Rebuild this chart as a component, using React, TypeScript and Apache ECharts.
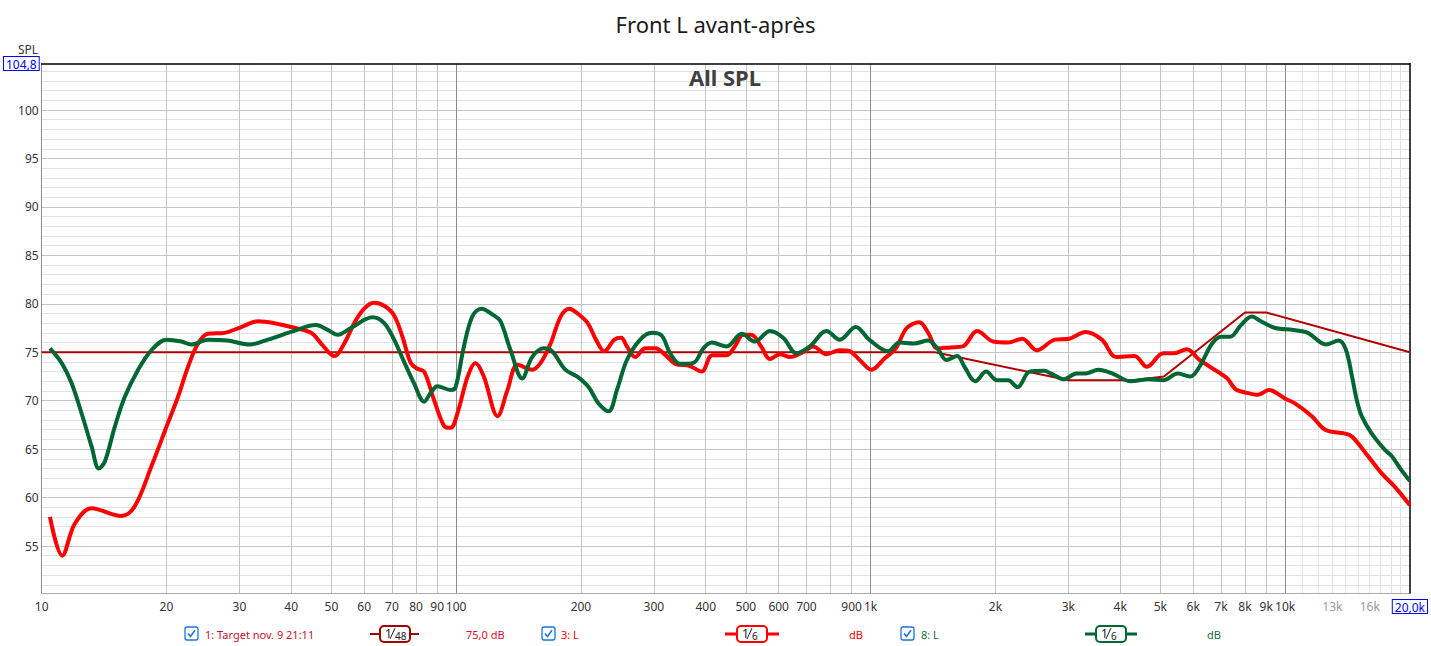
import React, { useEffect, useRef } from 'react';
import * as echarts from 'echarts';

// ---------- data ----------
const xLabelFreqs = [10, 20, 30, 40, 50, 60, 70, 80, 90, 100, 200, 300, 400, 500, 600, 700, 900, 1000, 2000, 3000, 4000, 5000, 6000, 7000, 8000, 9000, 10000, 13000, 16000, 20000];
const xLabelTexts = ['10', '20', '30', '40', '50', '60', '70', '80', '90', '100', '200', '300', '400', '500', '600', '700', '900', '1k', '2k', '3k', '4k', '5k', '6k', '7k', '8k', '9k', '10k', '13k', '16k', '20,0k'];
const decadeLines = [10, 100, 1000, 10000];
const majorLines = [20, 30, 40, 50, 60, 70, 80, 90, 200, 300, 400, 500, 600, 700, 800, 900, 2000, 3000, 4000, 5000, 6000, 7000, 8000, 9000];
const fineLines = [11000, 12000, 13000, 14000, 15000, 16000, 17000, 18000, 19000];
const yLabelValues = [55, 60, 65, 70, 75, 80, 85, 90, 95, 100];
const yMinorValues = [51, 52, 53, 54, 56, 57, 58, 59, 61, 62, 63, 64, 66, 67, 68, 69, 71, 72, 73, 74, 76, 77, 78, 79, 81, 82, 83, 84, 86, 87, 88, 89, 91, 92, 93, 94, 96, 97, 98, 99, 101, 102, 103, 104];
const yTop = 104.8;
const yBottom = 50.15;
const fMin = 10;
const fMax = 20000;

// 1: Target
const targetCurve: [number, number][] = [
  [10, 75], [1430, 75], [3000, 72.1], [4300, 72.1], [5100, 72.5], [8000, 79.1], [9000, 79.1], [20000, 75],
];

// 3: L (before, red)
const redCurve: [number, number][] = [
  [10.47, 58.0], [11.21, 54.0], [12.02, 57.3], [13.19, 58.9], [15.58, 58.1], [16.77, 59.1], [18.39, 63.2], [20.0, 67.3],
  [21.33, 70.4], [22.55, 73.5], [23.84, 75.9], [25.19, 76.9], [27.62, 77.0], [30.29, 77.6], [33.23, 78.2], [36.43, 78.0],
  [39.96, 77.6], [44.66, 77.0], [47.64, 75.7], [50.81, 74.6], [53.7, 75.9], [56.76, 78.0], [60.0, 79.5], [63.4, 80.1],
  [67.04, 79.8], [70.85, 78.8], [74.2, 76.6], [77.7, 73.9], [80.6, 73.3], [83.7, 73.0], [88.4, 70.1], [93.5, 67.4],
  [97.0, 67.2], [100.7, 68.7], [106.6, 72.5], [111.3, 73.9], [116.6, 72.5], [125.9, 68.4], [133.0, 71.1], [140.7, 73.7],
  [152.5, 73.2], [159.9, 73.9], [169.0, 75.9], [178.8, 78.7], [187.4, 79.5], [196.3, 79.0], [207.7, 78.0], [217.4, 76.3],
  [227.7, 75.1], [240.9, 76.3], [250, 76.5], [258.2, 75.6], [270.4, 74.5], [286, 75.4], [302.5, 75.4], [320, 74.7],
  [338, 73.8], [365.4, 73.6], [391, 73.0], [415, 74.7], [449.5, 74.7], [470.2, 75.6], [492.3, 76.8], [515, 76.8],
  [544.3, 75.6], [571.3, 74.3], [604.6, 74.8], [639, 74.5], [687, 75.0], [726, 75.6], [782, 74.8], [842, 75.2],
  [890, 75.1], [941, 74.2], [1004, 73.2], [1083, 74.4], [1150, 75.4], [1222, 77.5], [1311, 78.1], [1377, 77.0],
  [1449, 75.4], [1555, 75.5], [1668, 75.6], [1807, 77.2], [1977, 76.1], [2145, 76.0], [2322, 76.4], [2516, 75.2],
  [2783, 76.3], [3015, 76.4], [3300, 77.1], [3613, 76.3], [3914, 74.5], [4330, 74.6], [4642, 73.5], [5080, 74.9],
  [5397, 74.9], [5790, 75.3], [6214, 74.2], [6869, 73.0], [7250, 72.3], [7590, 71.2], [8100, 70.8], [8600, 70.6],
  [9130, 71.1], [10010, 70.2], [10580, 69.7], [11600, 68.4], [12490, 67.0], [13960, 66.6], [14500, 66.3], [15900, 64.2],
  [17100, 62.5], [18400, 61.1], [20000, 59.2],
];

// 8: L (after, green)
const greenCurve: [number, number][] = [
  [10.47, 75.4], [11.17, 73.9], [11.81, 71.8], [12.48, 68.7], [13.19, 65.3], [13.74, 63.0], [14.2, 63.7], [15.01, 67.3],
  [15.87, 70.4], [17.09, 73.2], [18.39, 75.2], [20.0, 76.3], [21.73, 76.1], [22.96, 75.8], [25.19, 76.3], [28.14, 76.2],
  [31.72, 75.8], [35.13, 76.3], [39.96, 77.1], [45.9, 77.8], [48.98, 77.3], [51.79, 76.8], [55.73, 77.5], [62.85, 78.6],
  [67.04, 78.0], [70.85, 76.3], [74.9, 74.0], [79.13, 71.8], [83.7, 69.9], [86.8, 70.8], [90.1, 71.5], [97.0, 71.1],
  [99.7, 71.4], [104.4, 75.6], [109.4, 78.7], [115.0, 79.5], [123.3, 78.8], [127.9, 78.2], [135.3, 75.2], [144.3, 72.3],
  [152.5, 74.5], [162.7, 75.4], [170.4, 75.1], [183.4, 73.2], [195.7, 72.5], [208.7, 71.4], [220.6, 69.7], [233.2, 68.9],
  [244.3, 71.1], [258.2, 74.2], [278, 76.3], [296.7, 77.0], [313.5, 76.7], [328.2, 74.9], [347, 73.8], [373.6, 73.9],
  [394.8, 75.4], [413.7, 76.0], [449.5, 75.6], [488.5, 76.9], [525.8, 76.1], [571.3, 77.2], [615, 76.5], [662.5, 74.9],
  [713.3, 75.6], [782.4, 77.2], [842.1, 76.3], [921, 77.6], [992, 76.3], [1101, 75.1], [1174, 76.0], [1271, 75.9],
  [1377, 76.2], [1449, 75.4], [1524, 74.2], [1618, 74.6], [1684, 73.5], [1789, 72.0], [1900, 73.0], [2018, 72.1],
  [2145, 72.1], [2262, 71.4], [2418, 73.0], [2620, 73.1], [2726, 72.8], [2926, 72.2], [3138, 72.8], [3300, 72.8],
  [3540, 73.2], [3836, 72.8], [4241, 72.0], [4691, 72.2], [5080, 72.1], [5506, 72.8], [5905, 72.5], [6214, 73.5],
  [6666, 75.9], [7007, 76.6], [7369, 76.6], [7823, 77.8], [8311, 78.7], [8741, 78.2], [9472, 77.5], [10471, 77.3],
  [11346, 77.0], [12544, 75.8], [13459, 76.2], [14005, 75.3], [14500, 72.5], [14900, 70.0], [15303, 68.4], [16180, 66.6],
  [17428, 64.9], [18072, 64.3], [19104, 62.8], [20000, 61.7],
];

// ---------- helpers ----------
const lg = (f: number) => Math.log10(f);
const toXY = (c: [number, number][]) => c.map(([f, v]) => [lg(f), v]);

const FONT = 'Noto Sans';
const C_TARGET = '#b00000';
const C_RED = '#ff0000';
const C_GREEN = '#006633';

function checkbox(x: number, y: number) {
  return [
    { type: 'rect', shape: { x, y, width: 13, height: 13, r: 2 }, style: { fill: '#fff', stroke: '#1a73e8', lineWidth: 1.3 } },
    { type: 'polyline', shape: { points: [[x + 3, y + 6.5], [x + 5.5, y + 9.5], [x + 10, y + 3.2]] }, style: { stroke: '#1a73e8', lineWidth: 1.6, fill: null } },
  ];
}

function badge(x1: number, x2: number, bx: number, color: string, den: string, lw: number) {
  const cy = 634;
  return [
    { type: 'line', shape: { x1, y1: cy, x2, y2: cy }, style: { stroke: color, lineWidth: lw } },
    { type: 'rect', shape: { x: bx, y: cy - 8, width: 30, height: 16, r: 4 }, style: { fill: '#fff', stroke: color, lineWidth: 2 } },
    { type: 'text', x: bx + 5, y: cy - 1, style: { text: '1', fill: '#222', font: `12px "${FONT}"`, verticalAlign: 'middle' } },
    { type: 'line', shape: { x1: bx + 10, y1: cy + 5, x2: bx + 15, y2: cy - 6 }, style: { stroke: '#222', lineWidth: 1 } },
    { type: 'text', x: bx + 15, y: cy + 2, style: { text: den, fill: '#222', font: `10px "${FONT}"`, verticalAlign: 'middle' } },
  ];
}

function txt(x: number, text: string, color: string) {
  return { type: 'text', x, y: 634, style: { text, fill: color, font: `11px "${FONT}"`, verticalAlign: 'middle' } };
}

export default function App() {
  const ref = useRef<HTMLDivElement>(null);
  useEffect(() => {
    if (!ref.current) return;
    const chart = echarts.init(ref.current, null, { renderer: 'svg' });
    const xMin = lg(fMin);
    const xMax = lg(fMax);
    const baseX = {
      type: 'value', min: xMin, max: xMax, position: 'bottom',
      axisLine: { show: false, onZero: false }, axisLabel: { show: false }, axisTick: { show: false },
    };
    const baseY = {
      type: 'value', min: yBottom, max: yTop, position: 'left',
      axisLine: { show: false, onZero: false }, axisLabel: { show: false }, axisTick: { show: false },
    };
    const option: any = {
      animation: false,
      backgroundColor: '#ffffff',
      title: {
        text: 'Front L avant-après', left: 'center', top: 8,
        textStyle: { fontFamily: FONT, fontSize: 22, fontWeight: 'normal', color: '#1a1a1a' },
      },
      grid: { left: 40, right: 20, top: 63.5, bottom: 53, containLabel: false },
      xAxis: [
        {
          ...baseX, z: 3,
          axisLine: { show: true, onZero: false, lineStyle: { color: '#a8a8a8', width: 1 } },
          axisTick: { show: false, customValues: decadeLines.map(lg) },
          splitLine: { show: true, lineStyle: { color: '#8c8c8c', width: 1 } },
          axisLabel: {
            show: true, margin: 7, fontFamily: FONT, fontSize: 12, color: '#333',
            customValues: xLabelFreqs.map(lg),
            formatter: (v: number) => {
              const i = xLabelFreqs.findIndex((f) => Math.abs(lg(f) - v) < 1e-6);
              if (i < 0) return '';
              const t = xLabelTexts[i];
              if (t === '13k' || t === '16k') return `{light|${t}}`;
              if (i === xLabelFreqs.length - 1) return `{box|${t}}`;
              return t;
            },
            rich: {
              light: { color: '#9a9a9a', fontFamily: FONT, fontSize: 12 },
              box: { color: '#0000ff', fontFamily: FONT, fontSize: 12, borderColor: '#0000ff', borderWidth: 1, padding: [1, 2, 0, 2], backgroundColor: '#fff' },
            },
          },
        },
        {
          ...baseX, z: 2,
          axisTick: { show: false, customValues: majorLines.map(lg) },
          splitLine: { show: true, lineStyle: { color: '#c4c4c4', width: 1 } },
        },
        {
          ...baseX, z: 0,
          axisTick: { show: false, customValues: fineLines.map(lg) },
          splitLine: { show: true, lineStyle: { color: '#e2e2e2', width: 1 } },
        },
        {
          ...baseX, position: 'top', z: 4,
          axisLine: { show: true, onZero: false, lineStyle: { color: '#000', width: 1.5 } },
          splitLine: { show: false },
        },
      ],
      yAxis: [
        {
          ...baseY, z: 2,
          axisLine: { show: true, onZero: false, lineStyle: { color: '#a8a8a8', width: 1 } },
          axisTick: { show: false, customValues: yLabelValues },
          splitLine: { show: true, lineStyle: { color: '#c4c4c4', width: 1 } },
          axisLabel: {
            show: true, margin: 3, fontFamily: FONT, fontSize: 12, color: '#333',
            customValues: [...yLabelValues, yTop],
            formatter: (v: number) => (Math.abs(v - yTop) < 1e-6 ? '{box|104,8}' : String(v)),
            rich: {
              box: { color: '#0000ff', fontFamily: FONT, fontSize: 12, borderColor: '#0000ff', borderWidth: 1, padding: [1, 2, 0, 2], backgroundColor: '#fff' },
            },
          },
        },
        {
          ...baseY, z: 0,
          axisTick: { show: false, customValues: yMinorValues },
          splitLine: { show: true, lineStyle: { color: '#e2e2e2', width: 1 } },
        },
        {
          ...baseY, position: 'right', z: 4,
          axisLine: { show: true, onZero: false, lineStyle: { color: '#000', width: 1.5 } },
          splitLine: { show: false },
        },
      ],
      series: [
        {
          name: '1: Target', type: 'line', xAxisIndex: 0, yAxisIndex: 0, z: 10,
          data: toXY(targetCurve), showSymbol: false, smooth: false,
          lineStyle: { color: C_TARGET, width: 2 }, itemStyle: { color: C_TARGET },
        },
        {
          name: '3: L', type: 'line', xAxisIndex: 0, yAxisIndex: 0, z: 11,
          data: toXY(redCurve), showSymbol: false, smooth: 0.35,
          lineStyle: { color: C_RED, width: 4 }, itemStyle: { color: C_RED },
        },
        {
          name: '8: L', type: 'line', xAxisIndex: 0, yAxisIndex: 0, z: 12,
          data: toXY(greenCurve), showSymbol: false, smooth: 0.35,
          lineStyle: { color: C_GREEN, width: 4 }, itemStyle: { color: C_GREEN },
        },
      ],
      graphic: [
        { type: 'text', x: 28, y: 49, style: { text: 'SPL', fill: '#333', font: `12px "${FONT}"`, align: 'center', verticalAlign: 'middle' } },
        { type: 'text', x: 725, y: 77, z: 20, style: { text: 'All SPL', fill: '#404040', font: `bold 22px "${FONT}"`, align: 'center', verticalAlign: 'middle' } },
        ...checkbox(185, 627),
        txt(205, '1: Target nov. 9 21:11', '#c8102e'),
        ...badge(370, 419, 380, '#a00000', '48', 2),
        txt(466, '75,0 dB', '#d41428'),
        ...checkbox(542, 627),
        txt(561, '3: L', '#ff0000'),
        ...badge(725, 779, 737, C_RED, '6', 3),
        txt(849, 'dB', '#ff0000'),
        ...checkbox(901, 627),
        txt(921, '8: L', '#1a6b40'),
        ...badge(1085, 1137, 1096, C_GREEN, '6', 3),
        txt(1207, 'dB', '#1a6b40'),
      ],
    };
    chart.setOption(option);
    return () => chart.dispose();
  }, []);
  return <div ref={ref} style={{ position: 'fixed', left: 0, top: 0, width: 1431, height: 646, background: '#fff' }} />;
}
